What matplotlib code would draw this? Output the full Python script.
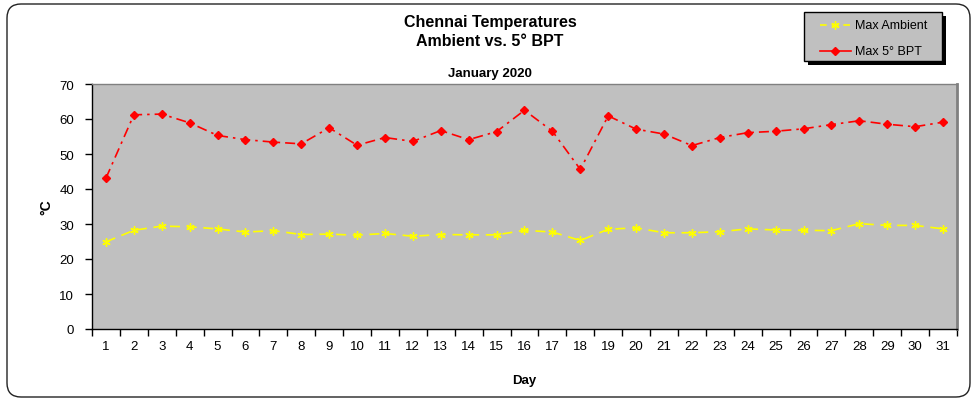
import matplotlib
matplotlib.use("Agg")
import matplotlib.pyplot as plt
from matplotlib.patches import FancyBboxPatch, Rectangle
from matplotlib.lines import Line2D
from matplotlib.transforms import IdentityTransform

plt.rcParams['font.family'] = ['Liberation Sans', 'DejaVu Sans']

days = list(range(1, 32))
max_ambient = [24.9, 28.2, 29.4, 29.2, 28.6, 27.7, 28.1, 27.0, 27.1, 26.8,
               27.3, 26.5, 27.0, 26.9, 26.9, 28.2, 27.7, 25.3, 28.5, 28.9,
               27.5, 27.5, 27.8, 28.6, 28.3, 28.2, 28.1, 30.1, 29.6, 29.6, 28.6]
max_bpt = [43.1, 61.2, 61.4, 58.9, 55.3, 54.1, 53.4, 52.9, 57.5, 52.5,
           54.7, 53.6, 56.7, 54.1, 56.4, 62.5, 56.5, 45.6, 60.9, 57.1,
           55.7, 52.4, 54.7, 56.1, 56.5, 57.2, 58.4, 59.5, 58.5, 57.8, 59.1]
y_ticks = [0, 10, 20, 30, 40, 50, 60, 70]

W, H = 978, 402
fig = plt.figure(figsize=(W / 100, H / 100), dpi=100)
fig.patch.set_facecolor('white')

# rounded outer border (pixel coordinates, origin bottom-left)
border = FancyBboxPatch((7, H - 398), 963, 393,
                        boxstyle="round,pad=0,rounding_size=14",
                        transform=IdentityTransform(), facecolor='none',
                        edgecolor='#222222', linewidth=1.0)
fig.patches.append(border)

left, right, top, bottom = 92, 957, 85, 330
ax = fig.add_axes([left / W, 1 - bottom / H, (right - left) / W, (bottom - top) / H])
ax.set_facecolor('#C0C0C0')

ax.plot(days, max_ambient, color='#FFFF00', linestyle=(0, (6, 4)), linewidth=1.2,
        marker=(6, 2, 0), markersize=6, markeredgewidth=1.0, markeredgecolor='#FFFF00',
        label='Max Ambient')
ax.plot(days, max_bpt, color='#FF0000', linestyle=(0, (6, 3, 1.5, 3)), linewidth=1.2,
        marker='D', markersize=4.5, markeredgecolor='#FF0000', markerfacecolor='#FF0000',
        label='Max 5° BPT')

ax.set_xlim(0.5, 31.5)
ax.set_ylim(0, 70)
ax.set_yticks(y_ticks)
ax.set_yticklabels([str(v) for v in y_ticks], fontsize=9.5)
ax.set_xticks([d + 0.5 for d in [0] + days])
ax.set_xticklabels([])
ax.set_xticks(days, minor=True)
ax.set_xticklabels([str(d) for d in days], minor=True, fontsize=9.5)
ax.tick_params(axis='x', which='minor', length=0, pad=8)
ax.tick_params(axis='x', which='major', length=5, direction='out', width=1)
ax.tick_params(axis='y', length=5, direction='out', width=1, pad=8)

for s in ['left', 'bottom']:
    ax.spines[s].set_color('black')
    ax.spines[s].set_linewidth(1.0)
ax.spines['top'].set_color('#808080')
ax.spines['top'].set_linewidth(1.0)
ax.spines['right'].set_color('#808080')
ax.spines['right'].set_linewidth(2.0)

ax.set_ylabel('°C', fontsize=10, fontweight='bold', labelpad=4)
ax.set_xlabel('Day', fontsize=9.5, fontweight='bold', labelpad=16)

fig.text(490 / W, 1 - 23 / H, 'Chennai Temperatures', ha='center', va='center',
         fontsize=11.5, fontweight='bold')
fig.text(490 / W, 1 - 42 / H, 'Ambient vs. 5° BPT', ha='center', va='center',
         fontsize=11.5, fontweight='bold')
fig.text(490 / W, 1 - 74 / H, 'January 2020', ha='center', va='center',
         fontsize=9.5, fontweight='bold')

# legend box with shadow
lx0, ly0, lx1, ly1 = 804, 13, 942, 62
shadow = Rectangle(((lx0 + 4) / W, 1 - (ly1 + 4) / H), (lx1 - lx0) / W, (ly1 - ly0) / H,
                   transform=fig.transFigure, facecolor='black', edgecolor='none', zorder=5)
box = Rectangle((lx0 / W, 1 - ly1 / H), (lx1 - lx0) / W, (ly1 - ly0) / H,
                transform=fig.transFigure, facecolor='#C0C0C0', edgecolor='black',
                linewidth=1.0, zorder=6)
fig.patches.extend([shadow, box])
fig.lines.append(Line2D([820 / W, 851 / W], [1 - 26 / H, 1 - 26 / H], transform=fig.transFigure,
                        color='#FFFF00', linestyle=(0, (4, 3)), linewidth=1.2, zorder=7))
fig.lines.append(Line2D([835.5 / W], [1 - 26 / H], transform=fig.transFigure,
                        color='#FFFF00', marker=(6, 2, 0), markersize=6, markeredgewidth=1.0,
                        zorder=7))
fig.lines.append(Line2D([820 / W, 835.5 / W, 851 / W], [1 - 52 / H] * 3,
                        transform=fig.transFigure, color='#FF0000', linewidth=1.2,
                        marker='D', markersize=4.5, markevery=[1], zorder=7))
fig.text(855 / W, 1 - 26 / H, 'Max Ambient', ha='left', va='center', fontsize=9, zorder=8)
fig.text(855 / W, 1 - 52 / H, 'Max 5° BPT', ha='left', va='center', fontsize=9, zorder=8)

fig.savefig('out.png', dpi=100)
